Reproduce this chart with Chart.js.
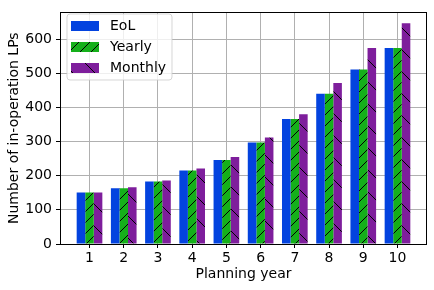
<!DOCTYPE html>
<html>
<head>
<meta charset="utf-8">
<script src="https://cdn.jsdelivr.net/npm/chart.js@4/dist/chart.umd.min.js"></script>
<style>
html,body{margin:0;padding:0;background:#fff;}
#wrap{width:434px;height:290px;position:relative;}
</style>
</head>
<body>
<div id="wrap"><canvas id="c" width="434" height="290"></canvas></div>
<script>
const years = [1, 2, 3, 4, 5, 6, 7, 8, 9, 10];
const eolValues = [151, 163, 183, 215, 246, 297, 366, 440, 511, 574];
const yearlyValues = [151, 163, 183, 215, 246, 297, 366, 440, 511, 574];
const monthlyValues = [151, 166, 186, 221, 255, 312, 380, 471, 574, 646];
const yTicks = [0, 100, 200, 300, 400, 500, 600];
const seriesNames = ['EoL', 'Yearly', 'Monthly'];

const FONT = 'DejaVu Sans';
const BLUE = '#0343df', GREEN = '#15b01a', PURPLE = '#7e1e9c';

function hatch(base, dir, s) {
  const cv = document.createElement('canvas');
  cv.width = s; cv.height = s;
  const g = cv.getContext('2d');
  g.fillStyle = base; g.fillRect(0, 0, s, s);
  g.strokeStyle = '#000'; g.lineWidth = 1;
  g.beginPath();
  if (dir === '/') {
    for (const o of [-s, 0, s]) { g.moveTo(o, s); g.lineTo(o + s, 0); }
  } else {
    for (const o of [-s, 0, s]) { g.moveTo(o, 0); g.lineTo(o + s, s); }
  }
  g.stroke();
  return g.createPattern(cv, 'repeat');
}

const ctx = document.getElementById('c').getContext('2d');
const fills = [BLUE, hatch(GREEN, '/', 11), hatch(PURPLE, '\\', 22)];
const series = [eolValues, yearlyValues, monthlyValues];

const frameAndLegend = {
  id: 'frameAndLegend',
  afterDraw(chart) {
    const c = chart.ctx, a = chart.chartArea;
    c.save();
    c.strokeStyle = '#000'; c.lineWidth = 1;
    c.strokeRect(Math.round(a.left) + 0.5, Math.round(a.top) + 0.5, Math.round(a.right - a.left) - 1, Math.round(a.bottom - a.top));
    // legend
    const lx = 67, ly = 14, lw = 105, lh = 66, r = 3;
    c.beginPath();
    c.moveTo(lx + r, ly);
    c.arcTo(lx + lw, ly, lx + lw, ly + lh, r);
    c.arcTo(lx + lw, ly + lh, lx, ly + lh, r);
    c.arcTo(lx, ly + lh, lx, ly, r);
    c.arcTo(lx, ly, lx + lw, ly, r);
    c.closePath();
    c.fillStyle = 'rgba(255,255,255,0.8)';
    c.fill();
    c.strokeStyle = 'rgba(204,204,204,0.8)';
    c.lineWidth = 1;
    c.stroke();
    c.font = '14px "' + FONT + '"';
    c.textBaseline = 'middle';
    c.fillStyle = '#000';
    chart.data.datasets.forEach((ds, i) => {
      const cy = 26 + i * 21;
      c.fillStyle = ds.backgroundColor;
      c.fillRect(71, cy - 5, 28, 10);
      c.fillStyle = '#000';
      c.fillText(ds.label, 110, cy + 0.5);
    });
    c.restore();
  }
};

new Chart(ctx, {
  type: 'bar',
  data: {
    datasets: seriesNames.map((name, i) => ({
      label: name,
      data: years.map((y, k) => ({x: y, y: series[i][k]})),
      backgroundColor: fills[i],
      borderWidth: 0,
      categoryPercentage: 0.75,
      barPercentage: 1.0
    }))
  },
  options: {
    responsive: false,
    animation: false,
    layout: {padding: {top: 7, right: 7, left: 0, bottom: 0}},
    plugins: {legend: {display: false}, tooltip: {enabled: false}},
    scales: {
      x: {
        type: 'linear',
        min: 0.1375,
        max: 10.8625,
        offset: false,
        z: 1,
        afterBuildTicks(s) { s.ticks = years.map(v => ({value: v})); },
        afterFit(s) { s.height = 46; },
        grid: {color: '#b0b0b0', lineWidth: 1, tickLength: 4, tickColor: '#000', offset: false},
        border: {display: false},
        ticks: {color: '#000', font: {family: FONT, size: 14}, padding: 2, maxRotation: 0, autoSkip: false},
        title: {display: true, text: 'Planning year', color: '#000', font: {family: FONT, size: 14}, padding: {top: 0, bottom: 7}}
      },
      y: {
        min: 0,
        max: 678,
        z: 1,
        afterBuildTicks(s) { s.ticks = yTicks.map(v => ({value: v})); },
        afterFit(s) { s.width = 60; },
        grid: {color: '#b0b0b0', lineWidth: 1, tickLength: 4, tickColor: '#000'},
        border: {display: false},
        ticks: {color: '#000', font: {family: FONT, size: 14}, padding: 4},
        title: {display: true, text: 'Number of in-operation LPs', color: '#000', font: {family: FONT, size: 14}, padding: {top: 6, bottom: 0}}
      }
    }
  },
  plugins: [frameAndLegend]
});
</script>
</body>
</html>
